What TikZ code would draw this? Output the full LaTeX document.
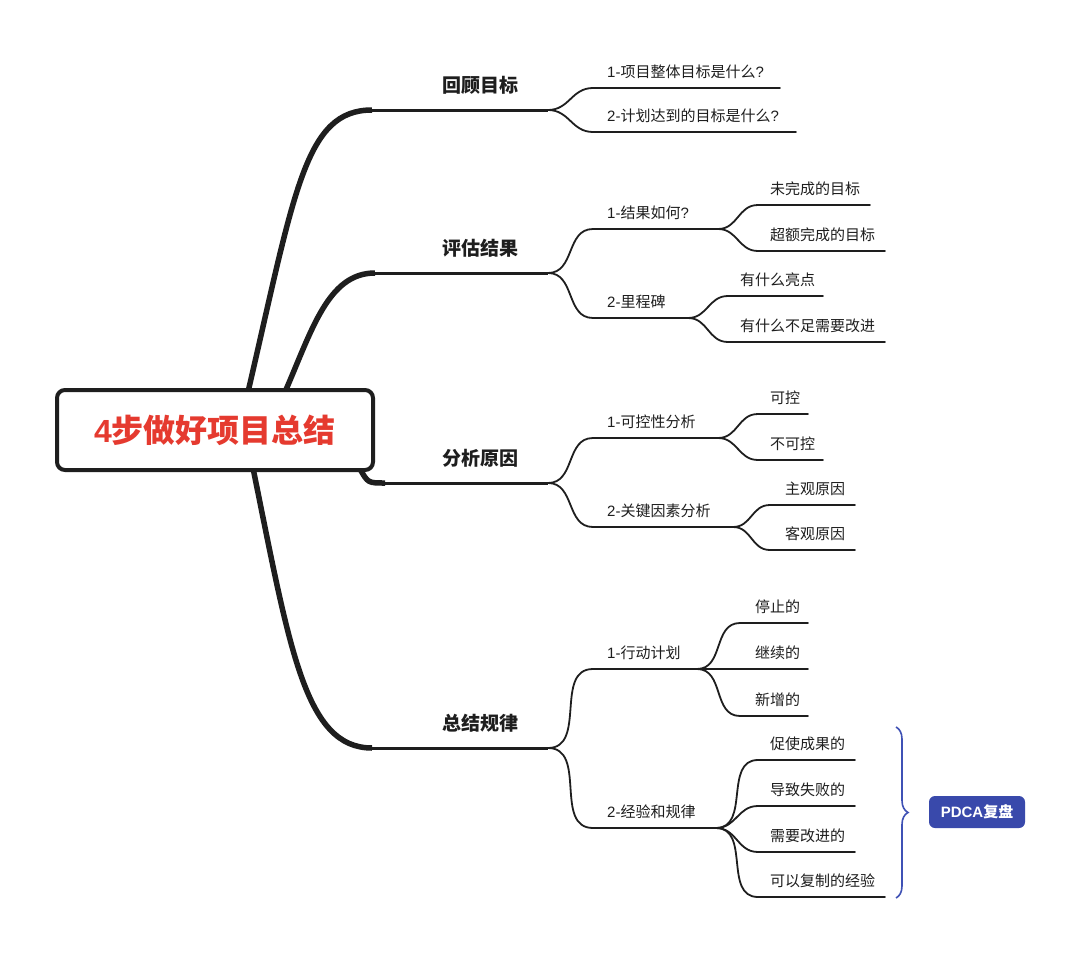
\documentclass[tikz,border=0pt]{standalone}
\usepackage{fontspec}
\setmainfont{Noto Sans CJK SC}
\newfontfamily\latfont{Liberation Sans}
\usepackage{xcolor}
\usepackage{tikz}
\usetikzlibrary{backgrounds,decorations.pathreplacing}

\definecolor{ink}{HTML}{1E1E1E}
\definecolor{titlered}{HTML}{E53A2F}
\definecolor{pdcablue}{HTML}{3949AB}
\definecolor{bracecol}{HTML}{3F51B5}

\tikzset{
  root/.style={draw=ink, line width=4pt, rounded corners=8pt, fill=white,
    minimum width=316pt, minimum height=80pt, text=titlered,
    font=\fontsize{32}{36}\selectfont\bfseries},
  trunk/.style={draw=ink, line width=5.5pt},
  stem/.style={draw=ink, line width=3pt},
  twig/.style={draw=ink, line width=1.8pt, line cap=round},
  fork/.style={out=0, in=180, looseness=1.1},
  topic/.style={inner sep=0pt, anchor=base, text=ink,
    font=\fontsize{19}{22}\selectfont\bfseries},
  item/.style={inner sep=0pt, anchor=base west, text=ink,
    font=\fontsize{15}{18}\selectfont},
  pdca/.style={fill=pdcablue, rounded corners=6pt, text=white,
    minimum width=96pt, minimum height=32pt,
    font=\fontsize{15}{18}\selectfont\bfseries},
}

\begin{document}
\begin{tikzpicture}[x=1pt, y=-1pt]
    \useasboundingbox (0,0) rectangle (1080,953);

    % Central topic
    \node[root] (root) at (215,430) {{\latfont 4}步做好项目总结};

    % Step 1: 回顾目标
    \node[topic] (g1) at (480,92) {回顾目标};
    \coordinate (g1a) at (372,110);
    \coordinate (g1b) at (548,110);
    \node[item] (g11) at (607,77) {{\latfont 1-}项目整体目标是什么{\latfont ?}};
    \coordinate (g11a) at (593,88);
    \coordinate (g11b) at (780,88);
    \node[item] (g12) at (607,121) {{\latfont 2-}计划达到的目标是什么{\latfont ?}};
    \coordinate (g12a) at (593,132);
    \coordinate (g12b) at (796,132);

    % Step 2: 评估结果
    \node[topic] (g2) at (480,255) {评估结果};
    \coordinate (g2a) at (375,273);
    \coordinate (g2b) at (548,273);
    \node[item] (g21) at (607,218) {{\latfont 1-}结果如何{\latfont ?}};
    \coordinate (g21a) at (593,229);
    \coordinate (g21b) at (718,229);
    \node[item] (g211) at (770,194) {未完成的目标};
    \coordinate (g211a) at (758,205);
    \coordinate (g211b) at (870,205);
    \node[item] (g212) at (770,240) {超额完成的目标};
    \coordinate (g212a) at (758,251);
    \coordinate (g212b) at (885,251);
    \node[item] (g22) at (607,307) {{\latfont 2-}里程碑};
    \coordinate (g22a) at (593,318);
    \coordinate (g22b) at (688,318);
    \node[item] (g221) at (740,285) {有什么亮点};
    \coordinate (g221a) at (728,296);
    \coordinate (g221b) at (823,296);
    \node[item] (g222) at (740,331) {有什么不足需要改进};
    \coordinate (g222a) at (728,342);
    \coordinate (g222b) at (885,342);

    % Step 3: 分析原因
    \node[topic] (g3) at (480,465) {分析原因};
    \coordinate (g3a) at (385,483);
    \coordinate (g3b) at (548,483);
    \node[item] (g31) at (607,427) {{\latfont 1-}可控性分析};
    \coordinate (g31a) at (593,438);
    \coordinate (g31b) at (718,438);
    \node[item] (g311) at (770,403) {可控};
    \coordinate (g311a) at (758,414);
    \coordinate (g311b) at (808,414);
    \node[item] (g312) at (770,449) {不可控};
    \coordinate (g312a) at (758,460);
    \coordinate (g312b) at (823,460);
    \node[item] (g32) at (607,516) {{\latfont 2-}关键因素分析};
    \coordinate (g32a) at (593,527);
    \coordinate (g32b) at (733,527);
    \node[item] (g321) at (785,494) {主观原因};
    \coordinate (g321a) at (770,505);
    \coordinate (g321b) at (855,505);
    \node[item] (g322) at (785,539) {客观原因};
    \coordinate (g322a) at (770,550);
    \coordinate (g322b) at (855,550);

    % Step 4: 总结规律
    \node[topic] (g4) at (480,730) {总结规律};
    \coordinate (g4a) at (372,748);
    \coordinate (g4b) at (548,748);
    \node[item] (g41) at (607,658) {{\latfont 1-}行动计划};
    \coordinate (g41a) at (593,669);
    \coordinate (g41b) at (697,669);
    \node[item] (g411) at (755,612) {停止的};
    \coordinate (g411a) at (740,623);
    \coordinate (g411b) at (808,623);
    \node[item] (g412) at (755,658) {继续的};
    \coordinate (g412b) at (808,669);
    \node[item] (g413) at (755,705) {新增的};
    \coordinate (g413a) at (740,716);
    \coordinate (g413b) at (808,716);
    \node[item] (g42) at (607,817) {{\latfont 2-}经验和规律};
    \coordinate (g42a) at (593,828);
    \coordinate (g42b) at (716,828);
    \node[item] (g421) at (770,749) {促使成果的};
    \coordinate (g421a) at (758,760);
    \coordinate (g421b) at (855,760);
    \node[item] (g422) at (770,795) {导致失败的};
    \coordinate (g422a) at (758,806);
    \coordinate (g422b) at (855,806);
    \node[item] (g423) at (770,841) {需要改进的};
    \coordinate (g423a) at (758,852);
    \coordinate (g423b) at (855,852);
    \node[item] (g424) at (770,886) {可以复制的经验};
    \coordinate (g424a) at (758,897);
    \coordinate (g424b) at (885,897);

    % PDCA tag
    \coordinate (br1) at (896,727);
    \coordinate (br2) at (896,898);
    \node[pdca] (pdca) at (977,812) {{\latfont PDCA}复盘};

    \begin{scope}[on background layer]
    \fill[white] (0,0) rectangle (1080,953);
    % main branches
    \draw[trunk] ([xshift=33pt,yshift=-4pt]root.north) .. controls (295,190) and (305,110) .. (g1a);
    \draw[trunk] ([xshift=70pt,yshift=-4pt]root.north) .. controls (312,330) and (328,273) .. (g2a);
    \draw[trunk] ([xshift=-15pt,yshift=3pt]root.south east) .. controls (368,483) .. (g3a);
    \draw[trunk] ([xshift=38pt,yshift=4pt]root.south) .. controls (290,650) and (305,748) .. (g4a);
    \draw[stem] ([xshift=-3pt]g1a) -- (g1b);
    \draw[stem] ([xshift=-3pt]g2a) -- (g2b);
    \draw[stem] (g3a) -- (g3b);
    \draw[stem] ([xshift=-3pt]g4a) -- (g4b);

    % sub branches
    \draw[twig] (g1b) to[fork] (g11a) -- (g11b);
    \draw[twig] (g1b) to[fork] (g12a) -- (g12b);
    \draw[twig] (g2b) to[fork] (g21a) -- (g21b);
    \draw[twig] (g2b) to[fork] (g22a) -- (g22b);
    \draw[twig] (g21b) to[fork] (g211a) -- (g211b);
    \draw[twig] (g21b) to[fork] (g212a) -- (g212b);
    \draw[twig] (g22b) to[fork] (g221a) -- (g221b);
    \draw[twig] (g22b) to[fork] (g222a) -- (g222b);
    \draw[twig] (g3b) to[fork] (g31a) -- (g31b);
    \draw[twig] (g3b) to[fork] (g32a) -- (g32b);
    \draw[twig] (g31b) to[fork] (g311a) -- (g311b);
    \draw[twig] (g31b) to[fork] (g312a) -- (g312b);
    \draw[twig] (g32b) to[fork] (g321a) -- (g321b);
    \draw[twig] (g32b) to[fork] (g322a) -- (g322b);
    \draw[twig] (g4b) to[fork] (g41a) -- (g41b);
    \draw[twig] (g4b) to[fork] (g42a) -- (g42b);
    \draw[twig] (g41b) to[fork] (g411a) -- (g411b);
    \draw[twig] (g41b) -- (g412b);
    \draw[twig] (g41b) to[fork] (g413a) -- (g413b);
    \draw[twig] (g42b) to[fork] (g421a) -- (g421b);
    \draw[twig] (g42b) to[fork] (g422a) -- (g422b);
    \draw[twig] (g42b) to[fork] (g423a) -- (g423b);
    \draw[twig] (g42b) to[fork] (g424a) -- (g424b);
    \end{scope}

    % brace round the four lessons
    \draw[bracecol, line width=1.6pt, decorate,
      decoration={brace, amplitude=12pt}] (br1) -- (br2);
\end{tikzpicture}
\end{document}
